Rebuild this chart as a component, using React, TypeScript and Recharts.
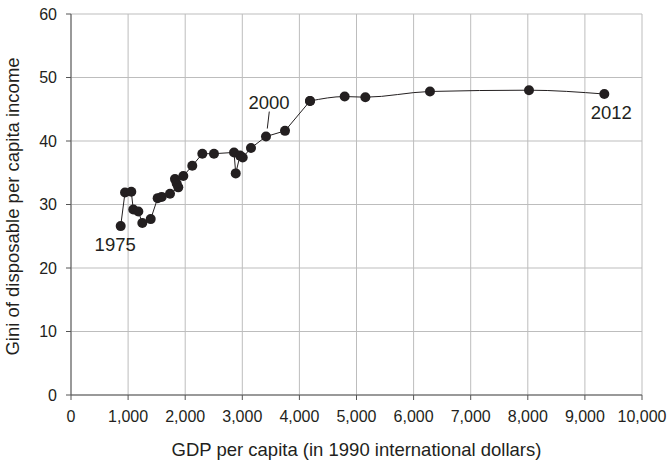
import { LineChart, Line, XAxis, YAxis, CartesianGrid, ReferenceDot, Label } from 'recharts'

// GDP per capita (1990 intl $) and Gini
const gdpEarly = [870, 946, 1056, 1091, 1179, 1249, 1396, 1518, 1588, 1734, 1879, 1851, 1821, 1967, 2124, 2300, 2504, 2855, 2885, 2960, 3007, 3152, 3415, 3748, 4186]
const giniEarly = [26.6, 31.9, 32.0, 29.2, 28.9, 27.1, 27.7, 31.0, 31.2, 31.7, 32.7, 33.3, 34.0, 34.5, 36.1, 38.0, 38.0, 38.2, 34.9, 37.7, 37.4, 38.9, 40.7, 41.6, 46.3]
const gdpLate = [4186, 4793, 5155, 6287, 8021, 9340]
const giniLate = [46.3, 47.0, 46.9, 47.8, 48.0, 47.4]

const xTicks = [0, 1000, 2000, 3000, 4000, 5000, 6000, 7000, 8000, 9000, 10000]
const yTicks = [0, 10, 20, 30, 40, 50, 60]

const yearLabels = ['1975', '2000', '2012']
const yearGdp = [870, 3415, 9340]
const yearGini = [26.6, 40.7, 47.4]

const INK = '#231f20'
const FONT = '"Liberation Sans", Arial, Helvetica, sans-serif'

const early = gdpEarly.map((g, i) => ({ gdp: g, gini: giniEarly[i] }))
const late = gdpLate.map((g, i) => ({ gdp: g, gini: giniLate[i] }))

// offsets of each annotation relative to its point
const labelOffsets: Record<string, { dx: number; dy: number; leader?: boolean }> = {
  '1975': { dx: -5.5, dy: 24.5 },
  '2000': { dx: 3, dy: -28, leader: true },
  '2012': { dx: 7, dy: 25 },
}

function YearLabel(props: any) {
  const { viewBox, value } = props
  const cx = viewBox.x + viewBox.width / 2
  const cy = viewBox.y + viewBox.height / 2
  const o = labelOffsets[value]
  return (
    <g>
      {o.leader && (
        <line x1={cx + 3.3} y1={cy - 25} x2={cx + 1.3} y2={cy - 8} stroke={INK} strokeWidth={1} />
      )}
      <text x={cx + o.dx} y={cy + o.dy} textAnchor="middle" fontSize={18.5} fontFamily={FONT} fill={INK}>
        {value}
      </text>
    </g>
  )
}

export default function App() {
  const dot = { r: 5, fill: INK, stroke: 'none' }
  return (
    <div style={{ position: 'absolute', left: 0, top: 0, width: 671, height: 462, background: '#fff' }}>
      <LineChart width={671} height={462} margin={{ top: 14, right: 29, left: 0, bottom: 0 }}>
        <CartesianGrid stroke="#bdbdbd" strokeWidth={1} />
        <XAxis
          type="number"
          dataKey="gdp"
          domain={[0, 10000]}
          ticks={xTicks}
          interval={0}
          height={67}
          tickSize={5}
          tickMargin={11}
          stroke="#555"
          tick={{ fill: INK, fontSize: 16, fontFamily: FONT }}
          tickFormatter={(v) => v.toLocaleString('en-US')}
        >
          <Label
            content={(p: any) => (
              <text
                x={p.viewBox.x + p.viewBox.width / 2}
                y={p.viewBox.y + 61}
                textAnchor="middle"
                fontSize={18.5}
                fontFamily={FONT}
                fill={INK}
              >
                GDP per capita (in 1990 international dollars)
              </text>
            )}
          />
        </XAxis>
        <YAxis
          type="number"
          domain={[0, 60]}
          ticks={yTicks}
          interval={0}
          width={71}
          tickSize={5}
          tickMargin={9}
          stroke="#555"
          tick={{ fill: INK, fontSize: 16, fontFamily: FONT }}
        >
          <Label
            content={(p: any) => {
              const cy = p.viewBox.y + p.viewBox.height / 2 + 2
              return (
                <text
                  x={19}
                  y={cy}
                  transform={`rotate(-90, 19, ${cy})`}
                  textAnchor="middle"
                  fontSize={18.5}
                  fontFamily={FONT}
                  fill={INK}
                >
                  Gini of disposable per capita income
                </text>
              )
            }}
          />
        </YAxis>
        <Line data={early} dataKey="gini" type="linear" stroke={INK} strokeWidth={1} dot={dot} isAnimationActive={false} />
        <Line data={late} dataKey="gini" type="monotone" stroke={INK} strokeWidth={1} dot={dot} isAnimationActive={false} />
        {yearLabels.map((y, i) => (
          <ReferenceDot
            key={y}
            x={yearGdp[i]}
            y={yearGini[i]}
            r={1}
            fill="none"
            stroke="none"
            label={<YearLabel value={y} />}
          />
        ))}
      </LineChart>
    </div>
  )
}
